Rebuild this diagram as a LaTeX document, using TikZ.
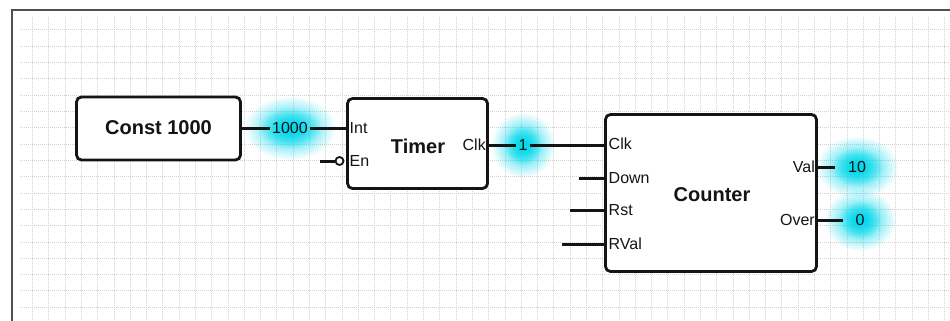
\documentclass[tikz,border=0pt]{standalone}
\usepackage{fontspec}
\setmainfont{Liberation Sans}
\usetikzlibrary{fadings,calc}
\definecolor{glowc}{RGB}{0,215,235}
\definecolor{framec}{RGB}{80,80,80}
\definecolor{gridc}{RGB}{210,210,210}
\definecolor{inkc}{RGB}{20,20,20}
\tikzfading[name=glowfade, inner color=transparent!0, outer color=transparent!100]
\pgfdeclarelayer{background}
\pgfsetlayers{background,main}
\begin{document}
\begin{tikzpicture}[x=1pt,y=-1pt,
  block/.style={draw=inkc, line width=2.8pt, fill=white, rounded corners=5pt, inner sep=0pt},
  wire/.style={line width=3pt, draw=inkc},
  title/.style={font=\fontsize{20}{20}\selectfont\bfseries, text=inkc, inner sep=0pt},
  port/.style={font=\fontsize{16}{16}\selectfont, text=inkc, inner sep=0pt},
  val/.style={font=\fontsize{16}{16}\selectfont, text=inkc, inner sep=2pt},
  bubble/.style={circle, draw=inkc, line width=1.8pt, fill=white, minimum size=8pt, inner sep=0pt},
  glow/.style={fill=glowc, path fading=glowfade},
  gridline/.style={draw=gridc, line width=1pt, dash pattern=on 1pt off 1pt}]
\useasboundingbox (0,0) rectangle (950,321);

% blocks
\node[block, minimum width=164pt, minimum height=63pt] (const) at (158.5,128.5) {};
\node[block, minimum width=140pt, minimum height=90pt] (timer) at (417.5,143.5) {};
\node[block, minimum width=211pt, minimum height=157pt] (counter) at (711,193) {};

\node[title] (constT) at (158.5,128) {Const 1000};
\node[title] (timerT) at (418,146) {Timer};
\node[title] (counterT) at (712,195) {Counter};

% ports
\coordinate (tInt) at (347.5,128);
\coordinate (tEn)  at (347.5,161);
\coordinate (tClk) at (487.5,145);
\coordinate (cClk) at (605.5,145);
\coordinate (cDown) at (605.5,178);
\coordinate (cRst) at (605.5,210);
\coordinate (cRVal) at (605.5,244);
\coordinate (cVal) at (816.5,167);
\coordinate (cOver) at (816.5,220);

% free ends of stubs
\coordinate (enEnd) at (320,161);
\coordinate (downEnd) at (579,178);
\coordinate (rstEnd) at (570,210);
\coordinate (rvalEnd) at (562,244);
\coordinate (valEnd) at (835,167);
\coordinate (overEnd) at (843,220);

% port labels
\node[port, anchor=west] (lInt) at (349.5,128) {Int};
\node[port, anchor=west] (lEn) at (349.5,161) {En};
\node[port, anchor=east] (lTClk) at (486,145) {Clk};
\node[port, anchor=west] (lCClk) at (608.5,144) {Clk};
\node[port, anchor=west] (lDown) at (608.5,178) {Down};
\node[port, anchor=west] (lRst) at (608.5,210) {Rst};
\node[port, anchor=west] (lRVal) at (608.5,244) {RVal};
\node[port, anchor=east] (lVal) at (815,166.5) {Val};
\node[port, anchor=east] (lOver) at (815,220) {Over};

% values
\node[val] (v1000) at (290,128) {1000};
\node[val] (v1) at (523,145) {1};
\node[val] (v10) at (857,167) {10};
\node[val] (v0) at (860,220) {0};

\node[bubble] (enBub) at (339.5,161) {};

% wires
\draw[wire] (const.east |- v1000) -- (v1000) -- (tInt);
\draw[wire] (tClk) -- (v1) -- (cClk);
\draw[wire] (enEnd) -- (enBub);
\draw[wire] (downEnd) -- (cDown);
\draw[wire] (rstEnd) -- (cRst);
\draw[wire] (rvalEnd) -- (cRVal);
\draw[wire] (cVal) -- (valEnd);
\draw[wire] (cOver) -- (overEnd);

\begin{pgfonlayer}{background}
  \foreach \i in {0,...,56}
    \draw[gridline] ({32.7+16.286*\i},17) -- ({32.7+16.286*\i},321);
  \foreach \j in {0,...,17}
    \draw[gridline] (20,{30+16.31*\j}) -- (950,{30+16.31*\j});
  \draw[framec, line width=2pt] (11.8,321) -- (11.8,10.3) -- (950,10.3);
  \fill[glow] (v1000.center) ellipse [x radius=46, y radius=32];
  \fill[glow] (v1000.center) ellipse [x radius=32, y radius=20];
  \fill[glow] (v1.center) ellipse [x radius=32, y radius=33];
  \fill[glow] (v1.center) ellipse [x radius=19, y radius=20];
  \fill[glow] (v10.center) ellipse [x radius=41, y radius=31];
  \fill[glow] (v10.center) ellipse [x radius=26, y radius=19];
  \fill[glow] (v0.center) ellipse [x radius=36, y radius=31];
  \fill[glow] (v0.center) ellipse [x radius=21, y radius=19];
\end{pgfonlayer}
\end{tikzpicture}
\end{document}
